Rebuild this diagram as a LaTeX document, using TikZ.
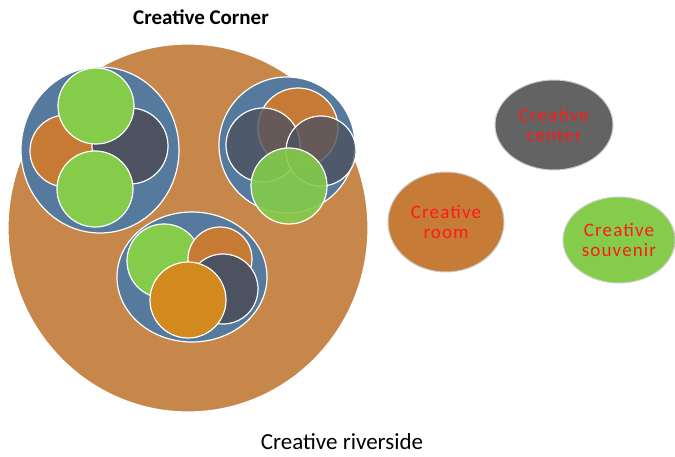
\documentclass[tikz,border=0pt]{standalone}
\usepackage{fontspec}
\setmainfont{Carlito}
\newfontfamily\labelfont[LetterSpace=6]{Carlito}
\definecolor{clay}{HTML}{C8874A}
\definecolor{steel}{HTML}{557A9E}
\definecolor{leaf}{HTML}{84CC4A}
\definecolor{slate}{HTML}{4D5260}
\definecolor{rust}{HTML}{C67A34}
\definecolor{amber}{HTML}{D2891E}
\definecolor{ash}{HTML}{636363}
\definecolor{labelred}{HTML}{FF1A1A}
\tikzset{
  ring/.style={draw=white, line width=1.2pt},
  blob/.style={ellipse, draw=gray!40, line width=1pt, minimum width=#1, align=center, inner sep=0pt,
    text=labelred, font=\labelfont\fontsize{19}{20}\selectfont}
}
\usetikzlibrary{shapes.geometric}
\begin{document}
\begin{tikzpicture}[x=1pt,y=-1pt]
\useasboundingbox (0,0) rectangle (675,457);

% big circle
\draw[ring, fill=clay] (188,228) ellipse (180 and 184);

% left group
\draw[ring, fill=steel] (100,150) ellipse (79 and 83);
\draw[ring, fill=rust] (66,151) circle (36);
\draw[ring, fill=slate] (130,146) circle (38);
\draw[ring, fill=leaf] (96,106) circle (38);
\draw[ring, fill=leaf] (95,189) circle (38);

% right group
\draw[ring, fill=steel] (287,145) circle (68);
\draw[ring, fill=rust] (298,128) circle (40);
\draw[ring, fill=slate, fill opacity=0.8] (263,145) circle (37);
\draw[ring, fill=slate, fill opacity=0.8] (321,151) circle (35);
\draw[ring, fill=leaf, fill opacity=0.9] (289,186) circle (38);

% bottom group
\draw[ring, fill=steel] (192,277) ellipse (75 and 65);
\draw[ring, fill=leaf] (164,261) circle (37);
\draw[ring, fill=rust] (220,259) circle (32);
\draw[ring, fill=slate] (223,289) circle (35);
\draw[ring, fill=amber] (188,300) circle (38);

\node[font=\bfseries\fontsize{21}{22}\selectfont] (corner) at (201,17) {Creative Corner};
\node[font=\fontsize{23}{24}\selectfont] (riverside) at (342,442) {Creative riverside};

\node[blob=118pt, minimum height=90pt, fill=ash] (center) at (554,125) {Creative\\center};
\node[blob=116pt, minimum height=100pt, fill=rust!85!clay] (room) at (446,222) {Creative\\room};
\node[blob=112pt, minimum height=86pt, fill=leaf] (souvenir) at (619,240) {Creative\\souvenir};
\end{tikzpicture}
\end{document}
